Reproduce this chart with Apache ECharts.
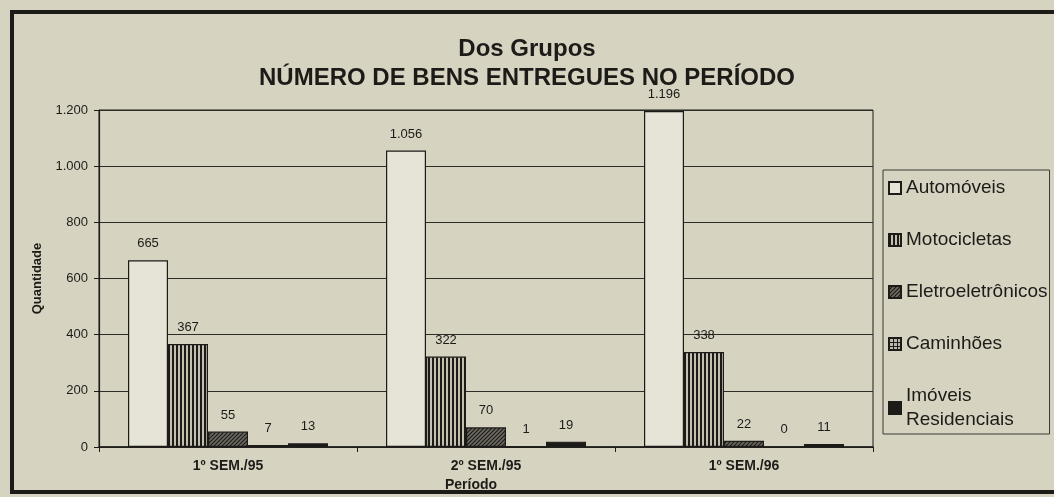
<!DOCTYPE html>
<html>
<head>
<meta charset="utf-8">
<script src="https://cdn.jsdelivr.net/npm/echarts@6/dist/echarts.min.js"></script>
<style>
  html, body { margin: 0; padding: 0; background: #d7d3c1; }
  #main { width: 1054px; height: 497px; }
</style>
</head>
<body>
<div id="main"></div>
<script>
// dados do gráfico
const periodos = ['1º SEM./95', '2º SEM./95', '1º SEM./96']
const automoveis = [665, 1056, 1196]
const motocicletas = [367, 322, 338]
const eletro = [55, 70, 22]
const caminhoes = [7, 1, 0]
const imoveis = [13, 19, 11]
const yTicks = [0, 200, 400, 600, 800, 1000, 1200]

const FONT = '"Liberation Sans", Arial, sans-serif'
const INK = '#1c1b18'
const PAPER = '#e6e3d7'

// padrões de preenchimento (hachuras)
function pattern (size, draw) {
  const c = document.createElement('canvas')
  c.width = size
  c.height = size
  const ctx = c.getContext('2d')
  draw(ctx, size)
  return { image: c, repeat: 'repeat' }
}
const vertical = pattern(4, (ctx) => {
  ctx.fillStyle = '#c4c0b0'
  ctx.fillRect(0, 0, 4, 4)
  ctx.fillStyle = INK
  ctx.fillRect(0, 0, 2, 4)
})
const diagonal = pattern(4, (ctx) => {
  ctx.fillStyle = '#6e6b62'
  ctx.fillRect(0, 0, 4, 4)
  ctx.strokeStyle = INK
  ctx.lineWidth = 1.2
  ctx.beginPath()
  ctx.moveTo(0, 4); ctx.lineTo(4, 0)
  ctx.moveTo(-1, 1); ctx.lineTo(1, -1)
  ctx.moveTo(3, 5); ctx.lineTo(5, 3)
  ctx.stroke()
})
const grade = pattern(4, (ctx) => {
  ctx.fillStyle = '#bdb9aa'
  ctx.fillRect(0, 0, 4, 4)
  ctx.fillStyle = INK
  ctx.fillRect(0, 0, 4, 1)
  ctx.fillRect(0, 0, 1, 4)
})

function milhar (v) {
  return String(v).replace(/\B(?=(\d{3})+(?!\d))/g, '.')
}

function serie (name, data, color) {
  return {
    name: name,
    type: 'bar',
    data: data,
    barWidth: 40,
    barGap: '0%',
    itemStyle: { color: color, borderColor: INK, borderWidth: 1.2 },
    label: {
      show: true,
      position: 'top',
      distance: 10,
      color: INK,
      fontFamily: FONT,
      fontSize: 13,
      formatter: (p) => milhar(p.value)
    }
  }
}

const myChart = echarts.init(document.getElementById('main'))
myChart.setOption({
  backgroundColor: '#d7d3c1',
  animation: false,
  title: {
    text: 'Dos Grupos\nNÚMERO DE BENS ENTREGUES NO PERÍODO',
    left: 'center',
    top: 30,
    textStyle: {
      fontFamily: FONT,
      fontWeight: 'bold',
      fontSize: 24,
      lineHeight: 29,
      color: INK
    }
  },
  graphic: [
    { type: 'rect', shape: { x: 12, y: 12, width: 1060, height: 480 }, style: { fill: 'none', stroke: INK, lineWidth: 4 } }
  ],
  legend: {
    orient: 'vertical',
    left: 883,
    top: 170,
    icon: 'rect',
    itemWidth: 12,
    itemHeight: 12,
    itemGap: 28,
    padding: [6, 2, 2, 5],
    borderColor: '#3a3833',
    borderWidth: 1,
    textStyle: { fontFamily: FONT, fontSize: 19, color: INK, lineHeight: 24 },
    formatter: (n) => n === 'Imóveis Residenciais' ? 'Imóveis\nResidenciais' : n,
    data: ['Automóveis', 'Motocicletas', 'Eletroeletrônicos', 'Caminhões', 'Imóveis Residenciais']
  },
  grid: {
    left: 99,
    right: 181,
    top: 110,
    bottom: 50,
    show: true,
    borderColor: INK,
    borderWidth: 1
  },
  xAxis: {
    type: 'category',
    data: periodos,
    name: 'Período',
    nameLocation: 'middle',
    nameGap: 27,
    nameTextStyle: { fontFamily: FONT, fontWeight: 'bold', fontSize: 14, color: INK, padding: [0, 30, 0, 0] },
    axisLine: { lineStyle: { color: INK, width: 1.5 } },
    axisTick: { show: true, length: 5, lineStyle: { color: INK } },
    axisLabel: { fontFamily: FONT, fontWeight: 'bold', fontSize: 14, color: INK, margin: 12 }
  },
  yAxis: {
    type: 'value',
    min: yTicks[0],
    max: yTicks[yTicks.length - 1],
    interval: 200,
    name: 'Quantidade',
    nameLocation: 'middle',
    nameRotate: 90,
    nameGap: 55,
    nameTextStyle: { fontFamily: FONT, fontWeight: 'bold', fontSize: 13, color: INK },
    axisLine: { show: true, lineStyle: { color: INK, width: 1.2 } },
    axisTick: { show: true, length: 5, lineStyle: { color: INK } },
    axisLabel: { fontFamily: FONT, fontSize: 13, color: INK, margin: 11, formatter: milhar },
    splitLine: { lineStyle: { color: '#2e2c28', width: 1.2 } }
  },
  series: [
    serie('Automóveis', automoveis, PAPER),
    serie('Motocicletas', motocicletas, vertical),
    serie('Eletroeletrônicos', eletro, diagonal),
    serie('Caminhões', caminhoes, grade),
    serie('Imóveis Residenciais', imoveis, INK)
  ]
})
</script>
</body>
</html>
